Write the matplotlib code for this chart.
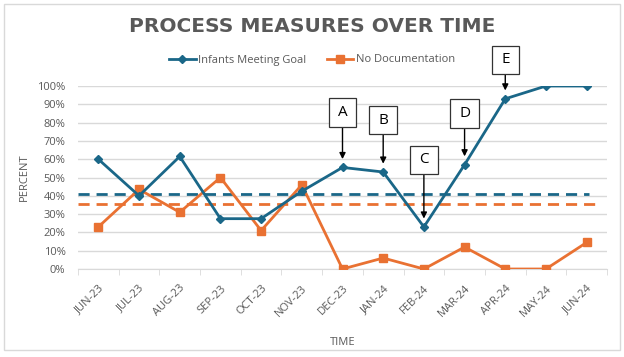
import matplotlib
matplotlib.use("Agg")
import matplotlib.pyplot as plt
from matplotlib.patches import Rectangle
from matplotlib.ticker import PercentFormatter, FixedLocator

months = ["JUN-23", "JUL-23", "AUG-23", "SEP-23", "OCT-23", "NOV-23", "DEC-23",
          "JAN-24", "FEB-24", "MAR-24", "APR-24", "MAY-24", "JUN-24"]
infants_goal = [60, 40, 61.5, 27.5, 27.5, 42.5, 55.5, 53, 23, 57, 93, 100, 100]
no_docs = [23, 43.5, 31, 50, 21, 46, 0, 6, 0, 12, 0, 0, 14.5]
goal_baseline = 41
docs_baseline = 35.5

# labelled changes: (letter, month index)
events = [("A", 6), ("B", 7), ("C", 8), ("D", 9), ("E", 10)]
event_lift = {"A": 55, "B": 52, "C": 67, "D": 51, "E": 39}  # px above the point

BLUE = "#1A6788"
ORANGE = "#E97132"
GRAY = "#595959"
plt.rcParams['font.family'] = ['Open Sans', 'DejaVu Sans']

fig = plt.figure(figsize=(6.24, 3.57), dpi=100)
ax = fig.add_axes([78 / 624, 1 - 269 / 357, (607 - 78) / 624, (269 - 86) / 357])

x = list(range(len(months)))
ax.plot(x, infants_goal, color=BLUE, lw=2, marker="D", ms=4.2, label="Infants Meeting Goal", zorder=4)
ax.plot(x, no_docs, color=ORANGE, lw=2, marker="s", ms=6, label="No Documentation", zorder=3)
ax.hlines(goal_baseline, -0.5, 12.05, colors=BLUE, linestyles=(0, (4, 2.5)), lw=2, zorder=2)
ax.hlines(docs_baseline, -0.5, 12.25, colors=ORANGE, linestyles=(0, (4, 2.5)), lw=2, zorder=2)

ax.set_xlim(-0.5, 12.5)
ax.set_ylim(0, 100)
ax.set_yticks(range(0, 101, 10))
ax.yaxis.set_major_formatter(PercentFormatter(decimals=0))
ax.grid(axis="y", color="#D9D9D9", lw=1)
ax.set_axisbelow(True)
for side in ["top", "right", "left"]:
    ax.spines[side].set_visible(False)
ax.spines["bottom"].set_color("#D9D9D9")

ax.set_xticks(x)
ax.set_xticklabels(months, rotation=45, ha="right", va="top", rotation_mode="anchor",
                   fontsize=8, color=GRAY)
ax.tick_params(axis="x", length=0, pad=10)
ax.xaxis.set_minor_locator(FixedLocator([i - 0.5 for i in range(len(months) + 1)]))
ax.tick_params(axis="x", which="minor", length=4, color="#D9D9D9")
ax.tick_params(axis="y", length=0, labelsize=8, labelcolor=GRAY, pad=9)

ax.set_xlabel("TIME", fontsize=8, color=GRAY, labelpad=13)
ax.set_ylabel("PERCENT", fontsize=8, color=GRAY, labelpad=5)

for letter, i in events:
    ax.annotate(letter, xy=(i, infants_goal[i]), xytext=(0, event_lift[letter] * 0.72),
                textcoords="offset points", ha="center", va="center", fontsize=11,
                bbox=dict(boxstyle="square,pad=0.6", fc="white", ec="#333333", lw=0.9,
                          mutation_aspect=0.73),
                arrowprops=dict(arrowstyle="-|>", color="black", lw=1, shrinkA=0, shrinkB=6,
                                mutation_scale=9),
                zorder=6)

fig.text(0.5, 1 - 26 / 357, "PROCESS MEASURES OVER TIME", ha="center", va="center",
         fontsize=14.5, fontweight="bold", color=GRAY, family="DejaVu Sans")
fig.legend(loc="center", bbox_to_anchor=(0.5, 1 - 60 / 357), ncol=2, frameon=False,
           fontsize=8, labelcolor=GRAY, handlelength=2.4, columnspacing=1.8, handletextpad=0.25)

fig.add_artist(Rectangle((4 / 624, 1 - 350 / 357), 616 / 624, 346 / 357,
                         transform=fig.transFigure, fill=False, ec="#D9D9D9", lw=1))

fig.savefig("out.png", dpi=100)
